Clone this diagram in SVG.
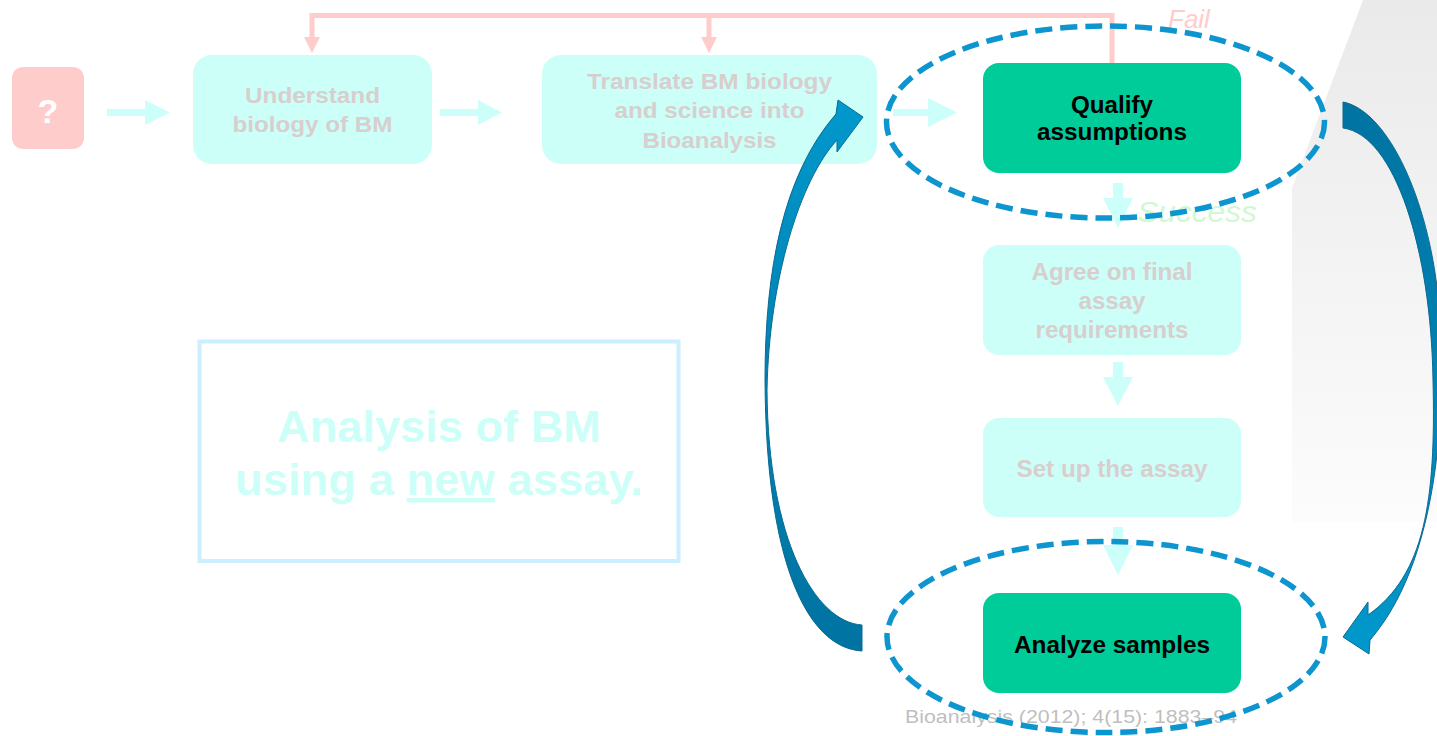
<svg xmlns="http://www.w3.org/2000/svg" width="1437" height="736" viewBox="0 0 1437 736">
<defs>
<style>
.faded{fill:#ccfff8}
.ftxt{font-family:"Liberation Sans",Arial,sans-serif;font-weight:bold;font-size:22px;fill:#d8cece;text-anchor:middle}
.ntxt{font-family:"Liberation Sans",Arial,sans-serif;font-weight:bold;font-size:24px;fill:#d8cece;text-anchor:middle}
.gtxt{font-family:"Liberation Sans",Arial,sans-serif;font-weight:bold;font-size:23px;fill:#000;text-anchor:middle}
.green{fill:#00cc99}
.flow{fill:#ccfffa}
.fail{fill:none;stroke:#ffcccc;stroke-width:5}
.failhead{fill:#ffcccc}
.dash{fill:none;stroke:#0d95cf;stroke-width:5.5;stroke-dasharray:17 8}
.bigarrow{stroke:#0a6a94;stroke-width:1}
</style>
<linearGradient id="bg" x1="0" y1="0" x2="0" y2="522" gradientUnits="userSpaceOnUse">
<stop offset="0" stop-color="#eaeaea"/>
<stop offset="1" stop-color="#fcfcfc"/>
</linearGradient>
<linearGradient id="gl" x1="0" y1="100" x2="0" y2="650" gradientUnits="userSpaceOnUse">
<stop offset="0" stop-color="#0099cd"/>
<stop offset="0.45" stop-color="#0084b5"/>
<stop offset="1" stop-color="#0073a1"/>
</linearGradient>
<linearGradient id="gr" x1="0" y1="100" x2="0" y2="654" gradientUnits="userSpaceOnUse">
<stop offset="0" stop-color="#0073a1"/>
<stop offset="0.55" stop-color="#0084b5"/>
<stop offset="1" stop-color="#0099cd"/>
</linearGradient>
</defs>
<rect width="1437" height="736" fill="#ffffff"/>
<polygon points="1363,0 1437,0 1437,522 1292,522 1292,188" fill="url(#bg)"/>

<g id="connectors">
<polygon class="flow" points="107,109 145,109 145,100 170,112.5 145,125 145,116 107,116"/>
<polygon class="flow" points="440,109 478,109 478,100 502,112.5 478,125 478,116 440,116"/>
<polygon class="flow" points="893,109 928,109 928,98 957,112.5 928,127 928,116 893,116"/>
<polygon class="flow" points="1113,183 1123,183 1123,198 1133,198 1118,228 1103,198 1113,198"/>
<polygon class="flow" points="1113,362 1123,362 1123,377 1133,377 1118,406 1103,377 1113,377"/>
<polygon class="flow" points="1113,527 1123,527 1123,545 1133,545 1118,575 1103,545 1113,545"/>
<path class="fail" d="M1112,63 V15.5 H312 V40 M709,15.5 V40"/>
<polygon class="failhead" points="304,37 320,37 312,53"/>
<polygon class="failhead" points="701,37 717,37 709,53"/>
<text x="1168" y="28" font-family="'Liberation Sans',Arial,sans-serif" font-style="italic" font-size="26" fill="#ffcccc">Fail</text>
<text x="1137" y="222" font-family="'Liberation Sans',Arial,sans-serif" font-style="italic" font-size="30" fill="#d3f7d3" textLength="120" lengthAdjust="spacingAndGlyphs">Success</text>
</g>

<g id="node-question">
<rect x="12" y="67" width="72" height="82" rx="11" fill="#ffcccc"/>
<text x="48" y="123" font-family="'Liberation Sans',Arial,sans-serif" font-weight="bold" font-size="34" fill="#ffffff" text-anchor="middle">?</text>
</g>

<g id="node-understand">
<rect class="faded" x="193" y="55" width="239" height="109" rx="19"/>
<text class="ftxt"><tspan x="312.5" y="103" textLength="135" lengthAdjust="spacingAndGlyphs">Understand</tspan><tspan x="312.5" y="132" textLength="160" lengthAdjust="spacingAndGlyphs">biology of BM</tspan></text>
</g>

<g id="node-translate">
<rect class="faded" x="542" y="55" width="335" height="109" rx="19"/>
<text class="ftxt"><tspan x="709.5" y="89" textLength="245" lengthAdjust="spacingAndGlyphs">Translate BM biology</tspan><tspan x="709.5" y="118" textLength="190" lengthAdjust="spacingAndGlyphs">and science into</tspan><tspan x="709.5" y="148" textLength="134" lengthAdjust="spacingAndGlyphs">Bioanalysis</tspan></text>
</g>

<g id="node-qualify">
<rect class="green" x="983" y="63" width="258" height="110" rx="16"/>
<text class="gtxt"><tspan x="1112" y="113" textLength="82" lengthAdjust="spacingAndGlyphs">Qualify</tspan><tspan x="1112" y="140" textLength="150" lengthAdjust="spacingAndGlyphs">assumptions</tspan></text>
</g>

<g id="node-agree">
<rect class="faded" x="983" y="245" width="258" height="110" rx="16"/>
<text class="ntxt"><tspan x="1112" y="280" textLength="161" lengthAdjust="spacingAndGlyphs">Agree on final</tspan><tspan x="1112" y="309" textLength="67" lengthAdjust="spacingAndGlyphs">assay</tspan><tspan x="1112" y="338" textLength="153" lengthAdjust="spacingAndGlyphs">requirements</tspan></text>
</g>

<g id="node-setup">
<rect class="faded" x="983" y="418" width="258" height="99" rx="16"/>
<text class="ntxt" x="1112" y="477" textLength="191" lengthAdjust="spacingAndGlyphs">Set up the assay</text>
</g>

<g id="node-analyze">
<rect class="green" x="983" y="593" width="258" height="100" rx="16"/>
<text class="gtxt" x="1112" y="653" textLength="196" lengthAdjust="spacingAndGlyphs">Analyze samples</text>
</g>

<g id="node-analysis-box">
<rect x="199.5" y="341.5" width="479" height="219.5" fill="none" stroke="#cceeff" stroke-width="4"/>
<text font-family="'Liberation Sans',Arial,sans-serif" font-weight="bold" font-size="45" fill="#ccfff8" text-anchor="middle"><tspan x="439" y="442" textLength="324" lengthAdjust="spacingAndGlyphs">Analysis of BM</tspan><tspan x="439" y="495" textLength="408" lengthAdjust="spacingAndGlyphs">using a <tspan text-decoration="underline">new</tspan> assay.</tspan></text>
</g>

<g id="citation">
<text x="905" y="723" font-family="'Liberation Sans',Arial,sans-serif" font-size="18" fill="#bfbfbf" textLength="332" lengthAdjust="spacingAndGlyphs">Bioanalysis (2012); 4(15): 1883–94</text>
</g>

<g id="loop">
<ellipse class="dash" cx="1105.5" cy="122" rx="219" ry="96"/>
<ellipse class="dash" cx="1106" cy="637" rx="219" ry="95.5"/>
<path class="bigarrow" fill="url(#gl)" d="M862,651 C810,648 766,570 765,380 C765,270 783,175 836,114 L838,100 L863,117 L837,152 L837,140 C800,180 769,280 767,390 C768,540 815,622 862,625 Z"/>
<path class="bigarrow" fill="url(#gr)" d="M1343,102 C1385,110 1425,190 1437,287 C1450,420 1435,565 1370,640 L1369,654 L1343,637 L1368,602 L1368,615 C1425,575 1436,500 1433,380 C1431,250 1395,135 1343,128 Z"/>
</g>
</svg>
